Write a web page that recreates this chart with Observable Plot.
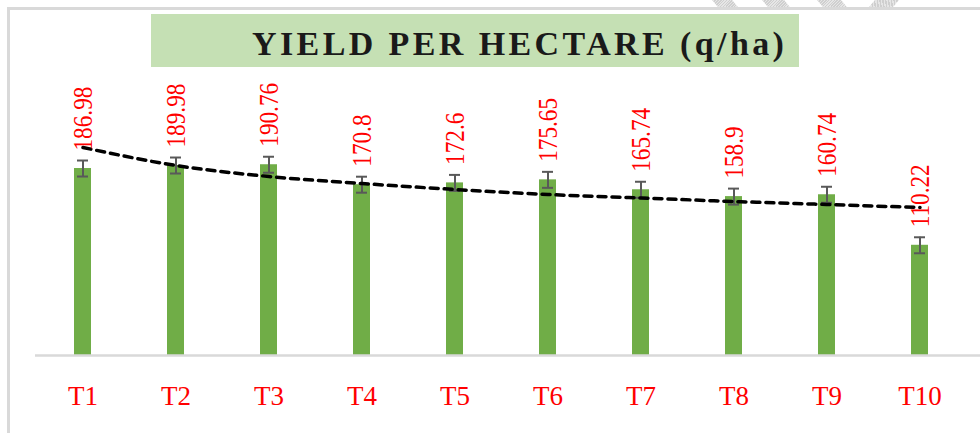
<!DOCTYPE html>
<html>
<head>
<meta charset="utf-8">
<script src="https://cdn.jsdelivr.net/npm/d3@7"></script>
<script src="https://cdn.jsdelivr.net/npm/@observablehq/plot@0.6"></script>
<style>
  html, body { margin: 0; padding: 0; background: #fff; }
  #wrap { position: relative; width: 980px; height: 433px; overflow: hidden; background: #fff; }
  .frame-top { position: absolute; left: 7px; top: 7px; width: 973px; height: 2.5px; background: #d9d9d9; }
  .frame-left { position: absolute; left: 7px; top: 7px; width: 2.5px; height: 426px; background: #d9d9d9; }
  .hatch { position: absolute; top: 0; height: 7px; background: repeating-linear-gradient(45deg, #cfcfcf 0 1px, #e6e6e6 1px 2px); }
  #titleRow { height: 68px; position: relative; }
  #titleBox { position: absolute; left: 151px; top: 14px; width: 648px; height: 53px; background: #c5e0b4; }
  #titleText { position: absolute; left: 101px; top: 0; line-height: 53px; margin-top: 3px; white-space: nowrap;
    font-family: "Liberation Serif", "Times New Roman", serif; font-weight: bold; font-size: 34px; letter-spacing: 3.4px; color: #1a1a1a; }
  #chart svg { display: block; }
</style>
</head>
<body>
<div id="wrap">
  <div class="frame-top"></div>
  <div class="frame-left"></div>
  <div class="hatch" style="left:715px;width:20px;transform:skewX(40deg);"></div>
  <div class="hatch" style="left:765px;width:22px;transform:skewX(40deg);"></div>
  <div class="hatch" style="left:820px;width:24px;transform:skewX(40deg);"></div>
  <div class="hatch" style="left:872px;width:24px;transform:skewX(-40deg);"></div>
  <div id="titleRow"><div id="titleBox"><span id="titleText">YIELD PER HECTARE (q/ha)</span></div></div>
  <div id="chart"></div>
</div>
<script>
const categories = ["T1", "T2", "T3", "T4", "T5", "T6", "T7", "T8", "T9", "T10"];
const yields = [186.98, 189.98, 190.76, 170.8, 172.6, 175.65, 165.74, 158.9, 160.74, 110.22];
const valueLabels = ["186.98", "189.98", "190.76", "170.8", "172.6", "175.65", "165.74", "158.9", "160.74", "110.22"];
const errors = [8, 8, 8, 8, 8, 8, 8, 8, 8, 8];
const trendValues = [208, 190, 179, 172, 166, 161, 157.5, 154, 151, 148];

const rows = categories.map((c, i) => ({
  cat: c, y: yields[i], label: valueLabels[i], err: errors[i], trend: trendValues[i]
}));

const chart = Plot.plot({
  width: 980,
  height: 365,
  marginLeft: 35,
  marginRight: 0,
  marginTop: 37,
  marginBottom: 78,
  style: { fontFamily: "'Liberation Serif', 'Times New Roman', serif", fontSize: "27px", color: "#ff0000", background: "transparent" },
  x: { domain: categories, range: [35.5, 965.5], paddingInner: 0.82, paddingOuter: 0.41, label: null },
  y: { domain: [0, 250], axis: null },
  marks: [
    Plot.barY(rows, { x: "cat", y: "y", fill: "#70ad47" }),
    Plot.ruleY([0], { stroke: "#d9d9d9", strokeWidth: 2.5 }),
    Plot.ruleX(rows, { x: "cat", y1: d => d.y - d.err, y2: d => d.y + d.err, stroke: "#595959", strokeWidth: 2 }),
    Plot.tickY(rows, { x: "cat", y: d => d.y + d.err, stroke: "#595959", strokeWidth: 2, insetLeft: 3, insetRight: 3 }),
    Plot.tickY(rows, { x: "cat", y: d => d.y - d.err, stroke: "#595959", strokeWidth: 2, insetLeft: 3, insetRight: 3 }),
    Plot.line(rows, { x: "cat", y: "trend", stroke: "#000", strokeWidth: 3.5, strokeDasharray: "8,6", strokeLinecap: "round", curve: "monotone-x" }),
    Plot.text(rows, { x: "cat", y: d => d.y + d.err, text: "label", rotate: -90, textAnchor: "start", dx: 0, dy: -10, fill: "#ff0000", fontSize: 27, className: "vlabel" }),
    Plot.axisX({ tickSize: 0, tickPadding: 30, fontSize: 27, fill: "#ff0000" })
  ]
});
document.getElementById("chart").appendChild(chart);

// slightly condense the rotated value labels as in the reference
d3.select(chart).selectAll(".vlabel text").each(function () {
  const len = this.getComputedTextLength();
  this.setAttribute("textLength", (len * 0.86).toFixed(1));
  this.setAttribute("lengthAdjust", "spacingAndGlyphs");
});
</script>
</body>
</html>
